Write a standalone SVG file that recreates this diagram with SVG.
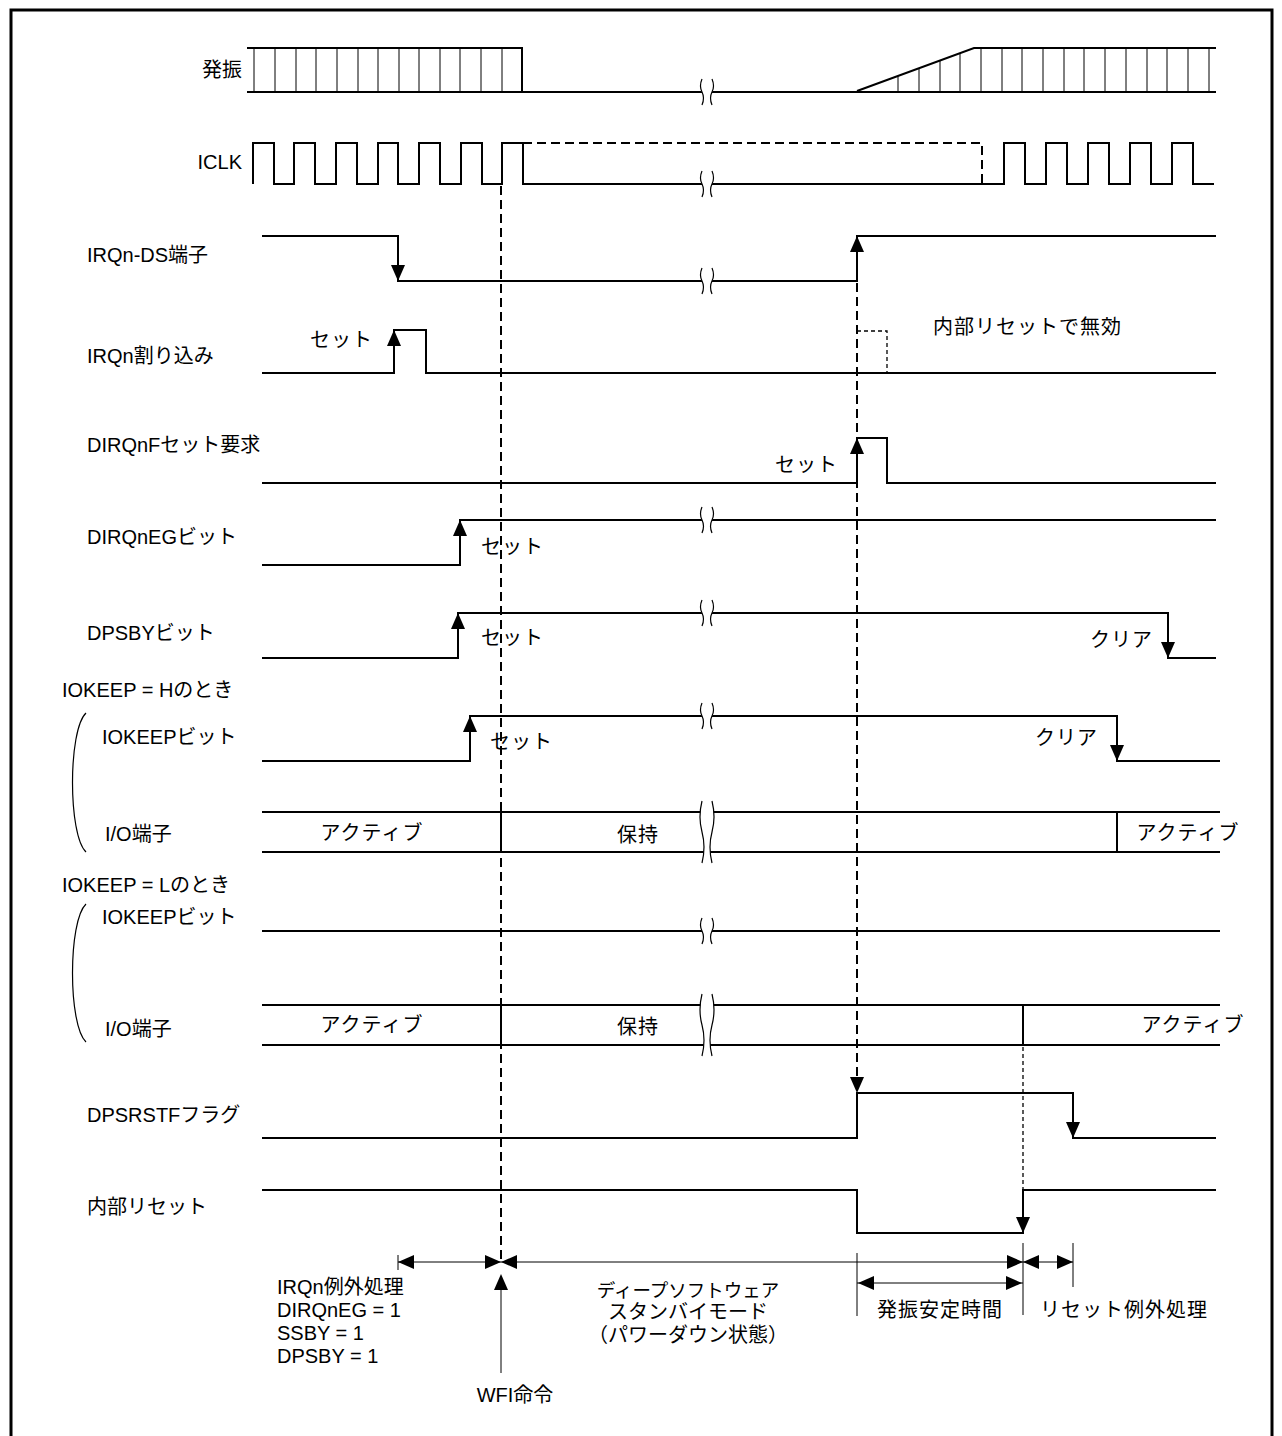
<svg xmlns="http://www.w3.org/2000/svg" xmlns:xlink="http://www.w3.org/1999/xlink" width="1282" height="1436" viewBox="0 0 1282 1436">
<style>
.t{font-family:"Liberation Sans","Noto Sans CJK JP",sans-serif;font-size:20px;fill:#000}
.j{letter-spacing:1px}
.m{text-anchor:middle}
.e{text-anchor:end}
.s{fill:none;stroke:#000;stroke-width:2}
.h{fill:none;stroke:#000;stroke-width:1}
.dl{fill:none;stroke:#000;stroke-width:2;stroke-dasharray:9,5}
.df{fill:none;stroke:#000;stroke-width:1.3;stroke-dasharray:4,3}
.ah{fill:#000}
.brk{fill:#fff;stroke:none}
.bc{fill:none;stroke:#000;stroke-width:1.2}
</style>
<defs>
<path id="aD" class="ah" d="M0,0 L-7,-16 L7,-16 Z"/>
<path id="aU" class="ah" d="M0,0 L-7,16 L7,16 Z"/>
<path id="aL" class="ah" d="M0,0 L16,-7 L16,7 Z"/>
<path id="aR" class="ah" d="M0,0 L-16,-7 L-16,7 Z"/>
<g id="b1">
<path class="brk" d="M-6,-13 Q-9,-6 -6,0 Q-3,6 -6,13 H4 Q1,6 4,0 Q7,-6 4,-13 Z"/>
<path class="bc" d="M-6,-13 Q-9,-6 -6,0 Q-3,6 -6,13 M4,-13 Q7,-6 4,0 Q1,6 4,13"/>
</g>
<g id="b2">
<path class="brk" d="M-6,-31 Q-10,-15 -6,0 Q-2,15 -6,31 H4 Q0,15 4,0 Q8,-15 4,-31 Z"/>
<path class="bc" d="M-6,-31 Q-10,-15 -6,0 Q-2,15 -6,31 M4,-31 Q8,-15 4,0 Q0,15 4,31"/>
</g>
</defs>

<g id="frame">
<path d="M11,1440 V10 H1272 V1440" fill="none" stroke="#000" stroke-width="3"/>
</g>

<g id="labels">
<text class="t e" x="242" y="77">発振</text>
<text class="t e" x="242" y="169">ICLK</text>
<text class="t" x="87" y="262">IRQn-DS端子</text>
<text class="t" x="87" y="363">IRQn割り込み</text>
<text class="t" x="87" y="452">DIRQnFセット要求</text>
<text class="t" x="87" y="544">DIRQnEGビット</text>
<text class="t" x="87" y="640">DPSBYビット</text>
<text class="t" x="62" y="697">IOKEEP = Hのとき</text>
<text class="t" x="102" y="744">IOKEEPビット</text>
<text class="t" x="105" y="841">I/O端子</text>
<text class="t" x="62" y="892">IOKEEP = Lのとき</text>
<text class="t" x="102" y="924">IOKEEPビット</text>
<text class="t" x="105" y="1036">I/O端子</text>
<text class="t" x="87" y="1122">DPSRSTFフラグ</text>
<text class="t" x="87" y="1214">内部リセット</text>
<path class="bc" d="M86,713 C68,730 68,835 86,852"/>
<path class="bc" d="M86,904 C68,921 68,1025 86,1042"/>
</g>

<g id="osc">
<path class="s" d="M247,48 H522 V92"/>
<path class="s" d="M247,92 H1216"/>
<path class="s" d="M857,91 L974,48 H1216"/>
<path class="h" d="M254,48V92 M275,48V92 M296,48V92 M316,48V92 M337,48V92 M358,48V92 M378,48V92 M399,48V92 M419,48V92 M440,48V92 M460,48V92 M481,48V92 M502,48V92"/>
<path class="h" d="M898,76.6V92 M919,68.7V92 M940,60.8V92 M960,53.3V92 M981,48V92 M1002,48V92 M1022,48V92 M1043,48V92 M1064,48V92 M1084,48V92 M1105,48V92 M1126,48V92 M1147,48V92 M1167,48V92 M1188,48V92 M1209,48V92"/>
<use xlink:href="#b1" x="708" y="92"/>
</g>

<g id="iclk">
<path class="s" d="M253,184 V143 H274 V184 H294 V143 H315 V184 H336 V143 H357 V184 H378 V143 H398 V184 H419 V143 H440 V184 H461 V143 H482 V184 H502 V143 H523 V184 H1004 V143 H1025 V184 H1046 V143 H1067 V184 H1088 V143 H1109 V184 H1130 V143 H1151 V184 H1172 V143 H1193 V184 H1214"/>
<path class="dl" d="M523,143 H982 V184"/>
<use xlink:href="#b1" x="708" y="184"/>
</g>

<g id="irqds">
<path class="s" d="M262,236 H398 V281 H857 V236 H1216"/>
<use xlink:href="#aD" x="398" y="281"/>
<use xlink:href="#aU" x="857" y="236"/>
<use xlink:href="#b1" x="708" y="281"/>
</g>

<g id="irqint">
<path class="s" d="M262,373 H394 V330 H426 V373 H1216"/>
<use xlink:href="#aU" x="394" y="330"/>
<text class="t j" x="310" y="347">セット</text>
<path class="df" d="M857,331 H887 V373"/>
<text class="t j" x="933" y="334">内部リセットで無効</text>
</g>

<g id="dirqnf">
<path class="s" d="M262,483 H857 V438 H887 V483 H1216"/>
<use xlink:href="#aU" x="857" y="438"/>
<text class="t j" x="775" y="472">セット</text>
</g>

<g id="dirqneg">
<path class="s" d="M262,565 H460 V520 H1216"/>
<use xlink:href="#aU" x="460" y="520"/>
<text class="t j" x="481" y="554">セット</text>
<use xlink:href="#b1" x="708" y="520"/>
</g>

<g id="dpsby">
<path class="s" d="M262,658 H458 V613 H1168 V658 H1216"/>
<use xlink:href="#aU" x="458" y="613"/>
<use xlink:href="#aD" x="1168" y="658"/>
<text class="t j" x="481" y="645">セット</text>
<text class="t j" x="1090" y="647">クリア</text>
<use xlink:href="#b1" x="708" y="613"/>
</g>

<g id="iokeep-h">
<path class="s" d="M262,761 H470 V716 H1117 V761 H1220"/>
<use xlink:href="#aU" x="470" y="716"/>
<use xlink:href="#aD" x="1117" y="761"/>
<text class="t j" x="490" y="749">セット</text>
<text class="t j" x="1035" y="745">クリア</text>
<use xlink:href="#b1" x="708" y="716"/>
</g>

<g id="io-h">
<path class="s" d="M262,812 H1220 M262,852 H1220 M501,812 V852 M1117,812 V852"/>
<text class="t j m" x="372" y="840">アクティブ</text>
<text class="t j m" x="638" y="842">保持</text>
<text class="t j m" x="1188" y="840">アクティブ</text>
<use xlink:href="#b2" x="708" y="832"/>
</g>

<g id="iokeep-l">
<path class="s" d="M262,931 H1220"/>
<use xlink:href="#b1" x="708" y="931"/>
</g>

<g id="io-l">
<path class="s" d="M262,1005 H1220 M262,1045 H1220 M501,1005 V1045 M1023,1005 V1045"/>
<text class="t j m" x="372" y="1032">アクティブ</text>
<text class="t j m" x="638" y="1034">保持</text>
<text class="t j m" x="1193" y="1032">アクティブ</text>
<use xlink:href="#b2" x="708" y="1025"/>
</g>

<g id="dpsrstf">
<path class="s" d="M262,1138 H857 V1093 H1073 V1138 H1216"/>
<use xlink:href="#aD" x="1073" y="1138"/>
</g>

<g id="reset">
<path class="s" d="M262,1190 H857 V1233 H1023 V1190 H1216"/>
<use xlink:href="#aD" x="1023" y="1233"/>
</g>

<g id="connectors">
<path class="dl" d="M501,186 V1262"/>
<path class="dl" d="M857,283 V1080"/>
<use xlink:href="#aD" x="857" y="1093"/>
<path class="df" d="M1023,1047 V1218"/>
<path class="h" d="M398,1262 H1073"/>
<path class="h" d="M398,1255 V1270 M857,1253 V1316 M1023,1243 V1315 M1073,1243 V1287"/>
<use xlink:href="#aL" x="398" y="1262"/>
<use xlink:href="#aR" x="501" y="1262"/>
<use xlink:href="#aL" x="501" y="1262"/>
<use xlink:href="#aR" x="1023" y="1262"/>
<use xlink:href="#aL" x="1023" y="1262"/>
<use xlink:href="#aR" x="1073" y="1262"/>
<path class="h" d="M857,1283 H1023"/>
<use xlink:href="#aL" x="858" y="1283"/>
<use xlink:href="#aR" x="1022" y="1283"/>
<path class="h" d="M501,1373 V1285"/>
<use xlink:href="#aU" x="501" y="1274"/>
</g>

<g id="annotations">
<text class="t" x="277" y="1294">IRQn例外処理</text>
<text class="t" x="277" y="1317">DIRQnEG = 1</text>
<text class="t" x="277" y="1340">SSBY = 1</text>
<text class="t" x="277" y="1363">DPSBY = 1</text>
<text class="t m" x="515" y="1402">WFI命令</text>
<text class="t m" x="688" y="1297" style="font-size:18.5px">ディープソフトウェア</text>
<text class="t m" x="688" y="1319">スタンバイモード</text>
<text class="t m" x="688" y="1342">（パワーダウン状態）</text>
<text class="t m j" x="940" y="1317">発振安定時間</text>
<text class="t j" x="1040" y="1317">リセット例外処理</text>
</g>
</svg>
